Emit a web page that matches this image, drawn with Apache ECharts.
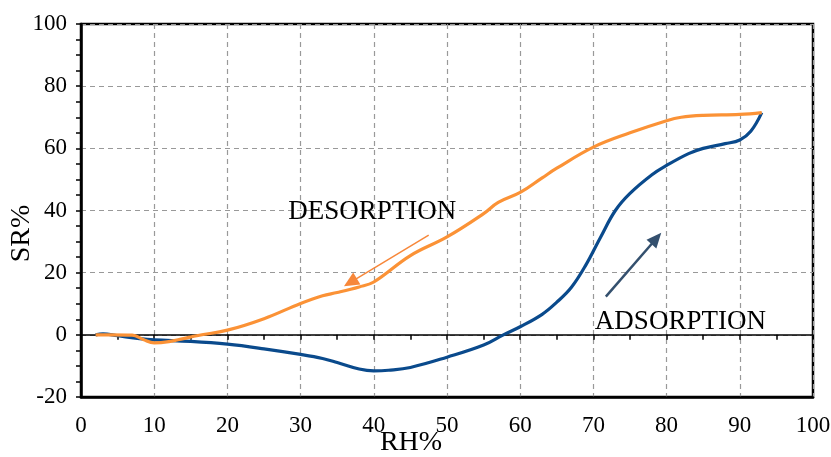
<!DOCTYPE html>
<html>
<head>
<meta charset="utf-8">
<script src="https://cdn.jsdelivr.net/npm/echarts@6/dist/echarts.min.js"></script>
<style>html,body{margin:0;padding:0;background:#fff}#c{width:831px;height:457px}</style>
</head>
<body>
<div id="c"></div>
<script>
// RH% values and SR% values
const adsorptionRH = [2, 3, 5, 8, 10, 15, 20, 25, 30, 33, 35, 38, 40, 42, 45, 50, 55, 57.7, 60, 63, 65, 67, 69, 71, 73, 75, 78, 80, 83, 85, 88, 90, 91.5, 93];
const adsorptionSR = [0, 0.3, -0.3, -1.2, -1.6, -2.1, -3, -4.5, -6.3, -7.6, -8.9, -11, -11.6, -11.4, -10.5, -7.2, -3.3, 0, 2.6, 6.6, 10.5, 15.3, 22.6, 31.5, 40, 45.5, 51.5, 54.5, 58.3, 60, 61.5, 62.7, 65.5, 71.5];
const desorptionRH = [2, 4, 7, 8.5, 10, 12, 14, 16, 20, 25, 30, 33, 35, 38, 40, 45, 50, 55, 57, 60, 63, 65, 70, 75, 80, 82, 85, 90, 93];
const desorptionSR = [0, 0, -0.1, -1.5, -2.6, -2.2, -1.2, -0.2, 1.5, 5.2, 10.1, 12.6, 13.6, 15.4, 17, 25.5, 31.5, 39, 42.6, 45.8, 50.5, 53.6, 60.4, 65, 68.9, 70, 70.6, 70.9, 71.5];

const xTicks = {min: 0, max: 100, interval: 10};
const yTicks = {min: -20, max: 100, interval: 20};

// annotation arrows [fromRH, fromSR, toRH, toSR]
const desorptionArrow = [47.5, 32.1, 36.8, 16.9];
const adsorptionArrow = [71.7, 12.3, 78.6, 31.0];
// text labels [RH, SR, text]
const labelTexts = [[28.3, 39.5, 'DESORPTION'], [70.2, 4, 'ADSORPTION']];

const FONT = '"Liberation Serif", "Times New Roman", serif';
const zip = (a, b) => a.map((v, i) => [v, b[i]]);

const chart = echarts.init(document.getElementById('c'));
chart.setOption({
  animation: false,
  grid: {left: 81, right: 18, top: 24, bottom: 60, show: true, borderColor: '#000', borderWidth: 2.5, backgroundColor: 'transparent', containLabel: false, outerBoundsMode: 'none'},
  xAxis: [
    {
      type: 'value', position: 'bottom', min: xTicks.min, max: xTicks.max, interval: xTicks.interval,
      axisLine: {show: true, onZero: false, lineStyle: {color: '#000', width: 2.5}},
      axisTick: {show: false},
      axisLabel: {color: '#000', fontFamily: FONT, fontSize: 23, margin: 17},
      splitLine: {show: true, lineStyle: {color: '#999', type: [5, 4], width: 1.2}},
      name: 'RH%', nameLocation: 'middle', nameGap: 32, nameMoveOverlap: false,
      nameTextStyle: {color: '#000', fontFamily: FONT, fontSize: 28, padding: [0, 72, 0, 0]}
    },
    {
      type: 'value', position: 'top', min: xTicks.min, max: xTicks.max, interval: 5,
      axisLine: {show: true, onZero: true, lineStyle: {color: '#000', width: 1.5}},
      axisTick: {show: true, inside: true, length: 5, lineStyle: {color: '#000', width: 1.5}},
      axisLabel: {show: false},
      splitLine: {show: false}
    }
  ],
  yAxis: {
    type: 'value', min: yTicks.min, max: yTicks.max, interval: yTicks.interval,
    axisLine: {show: true, onZero: false, lineStyle: {color: '#000', width: 2.5}},
    axisTick: {show: true, length: 5, lineStyle: {color: '#000', width: 1.5}},
    minorTick: {show: true, splitNumber: 4, length: 5, lineStyle: {color: '#000', width: 1.5}},
    axisLabel: {color: '#000', fontFamily: FONT, fontSize: 23, margin: 14},
    splitLine: {show: true, lineStyle: {color: '#999', type: [5, 4], width: 1.2}},
    name: 'SR%', nameLocation: 'middle', nameGap: 45, nameMoveOverlap: false,
    nameTextStyle: {color: '#000', fontFamily: FONT, fontSize: 28, padding: [0, 46, 0, 0]}
  },
  series: [
    {
      name: 'ADSORPTION', type: 'line', xAxisIndex: 0, smooth: 0.4, showSymbol: false,
      data: zip(adsorptionRH, adsorptionSR),
      lineStyle: {color: '#0A4A8C', width: 3.2}, z: 3,
      markLine: {
        silent: true, symbol: ['none', 'triangle'], symbolSize: [13, 15],
        label: {show: false},
        lineStyle: {color: '#34506E', width: 2.5, type: 'solid'},
        data: [[{coord: [adsorptionArrow[0], adsorptionArrow[1]]}, {coord: [adsorptionArrow[2], adsorptionArrow[3]]}]]
      }
    },
    {
      name: 'DESORPTION', type: 'line', xAxisIndex: 0, smooth: 0.4, showSymbol: false,
      data: zip(desorptionRH, desorptionSR),
      lineStyle: {color: '#FB9236', width: 3.2}, z: 4,
      markLine: {
        silent: true, symbol: ['none', 'triangle'], symbolSize: [14, 15],
        label: {show: false},
        lineStyle: {color: '#F7873A', width: 1.5, type: 'solid'},
        data: [[{coord: [desorptionArrow[0], desorptionArrow[1]]}, {coord: [desorptionArrow[2], desorptionArrow[3]]}]]
      }
    },
    {
      type: 'scatter', xAxisIndex: 0, symbolSize: 0, silent: true,
      itemStyle: {opacity: 1},
      data: labelTexts,
      label: {
        show: true, position: 'right', distance: 0, opacity: 1,
        formatter: p => p.data[2],
        color: '#000', fontFamily: FONT, fontSize: 27
      }
    }
  ]
});
</script>
</body>
</html>
